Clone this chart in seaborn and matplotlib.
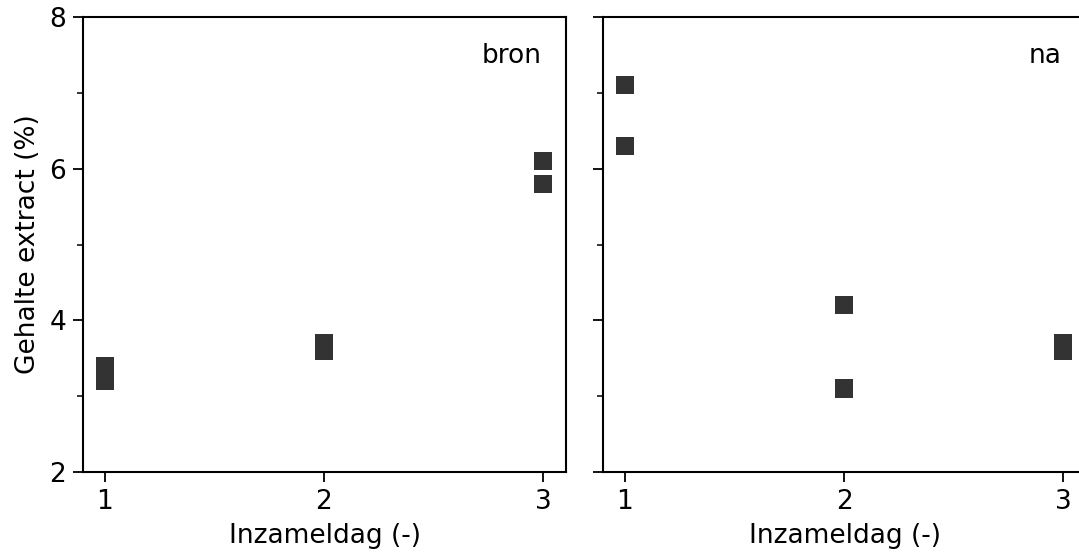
import matplotlib
matplotlib.use("Agg")
import matplotlib.pyplot as plt
from matplotlib.ticker import MultipleLocator
import seaborn as sns
import pandas as pd

# Data
days_bron = [1, 1, 2, 2, 3, 3]
values_bron = [3.4, 3.2, 3.7, 3.6, 6.1, 5.8]
days_na = [1, 1, 2, 2, 3, 3]
values_na = [7.1, 6.3, 4.2, 3.1, 3.7, 3.6]
panel_labels = ["bron", "na"]
x_ticks = [1, 2, 3]
y_ticks = [2, 4, 6, 8]

sns.set_theme(style="ticks")
plt.rcParams["font.family"] = ["DejaVu Sans"]
plt.rcParams.update({
    "axes.linewidth": 1.5,
    "xtick.major.width": 1.3,
    "ytick.major.width": 1.3,
    "ytick.minor.width": 1.1,
    "xtick.major.size": 7,
    "ytick.major.size": 7,
    "ytick.minor.size": 4,
    "xtick.major.pad": 5,
    "ytick.major.pad": 5,
    "xtick.labelsize": 19,
    "ytick.labelsize": 19,
    "axes.labelsize": 19,
    "axes.edgecolor": "black",
    "xtick.color": "black",
    "ytick.color": "black",
    "text.color": "black",
    "axes.labelcolor": "black",
})

df = pd.concat([
    pd.DataFrame({"Inzameldag": days_bron, "Gehalte": values_bron, "panel": "bron"}),
    pd.DataFrame({"Inzameldag": days_na, "Gehalte": values_na, "panel": "na"}),
])

fig = plt.figure(figsize=(10.79, 5.55), dpi=100)
w = 0.4477
h = 0.8198
ax1 = fig.add_axes([0.0769, 0.1495, w, h])
ax2 = fig.add_axes([0.5589, 0.1495, w, h], sharey=ax1)

for ax, lab in zip([ax1, ax2], panel_labels):
    sub = df[df["panel"] == lab]
    sns.scatterplot(data=sub, x="Inzameldag", y="Gehalte", ax=ax, marker="s",
                    s=175, color="#333333", edgecolor="none", linewidth=0,
                    legend=False)
    ax.set_xlim(0.9, 3.105)
    ax.set_ylim(2, 8)
    ax.set_xticks(x_ticks)
    ax.set_yticks(y_ticks)
    ax.yaxis.set_minor_locator(MultipleLocator(1))
    ax.set_xlabel("Inzameldag (-)", labelpad=6)
    ax.text(0.95, 0.915, lab, transform=ax.transAxes, ha="right", va="center",
            fontsize=19)

ax1.set_ylabel("Gehalte extract (%)", labelpad=6)
ax2.set_ylabel("")
ax2.tick_params(axis="y", labelleft=False)

fig.savefig("out.png", dpi=100)
